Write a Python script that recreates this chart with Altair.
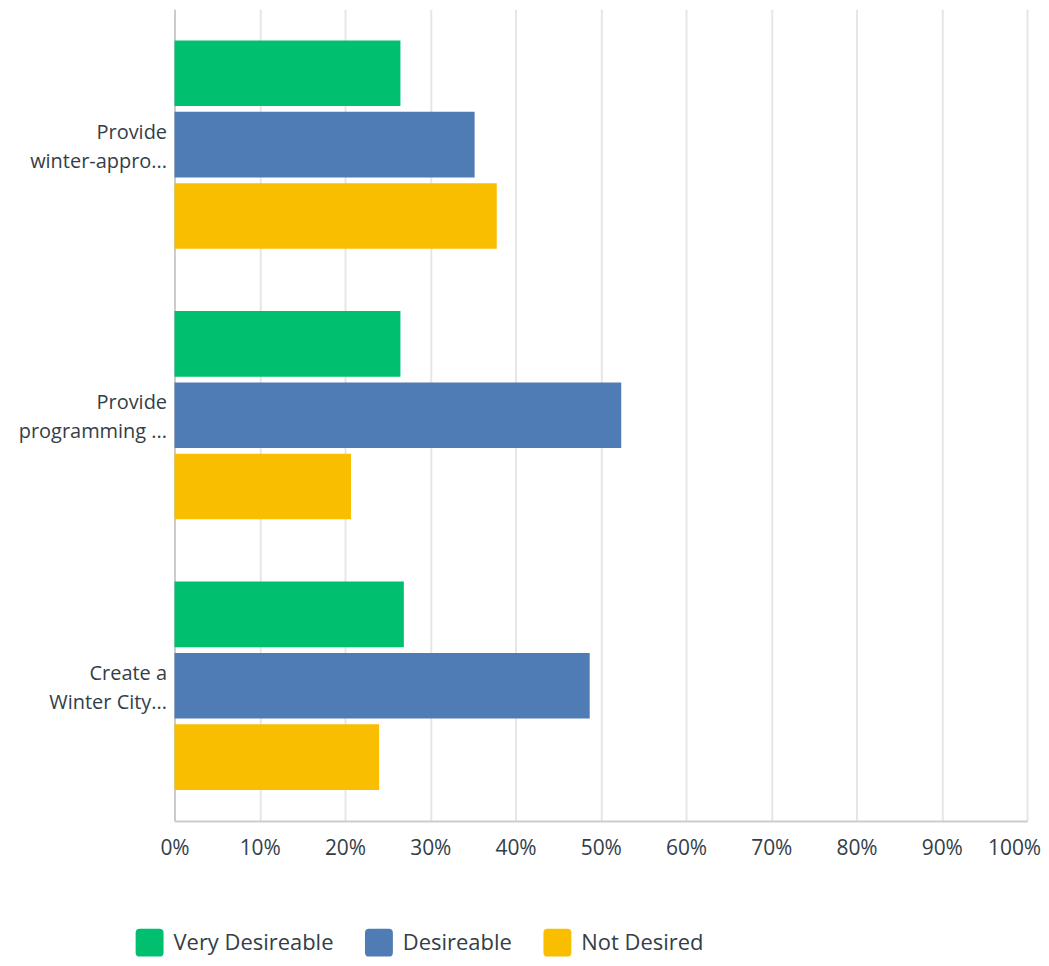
import altair as alt
import pandas as pd

categories = ["Provide|winter-appro...", "Provide|programming ...", "Create a|Winter City..."]
series = ["Very Desireable", "Desireable", "Not Desired"]
very_desireable = [0.265, 0.265, 0.269]
desireable = [0.352, 0.524, 0.487]
not_desired = [0.378, 0.207, 0.240]
colors = ["#00bf6f", "#507cb6", "#f9be00"]
x_ticks = [i / 10 for i in range(11)]

rows = []
for i, c in enumerate(categories):
    for s, vals in zip(series, [very_desireable, desireable, not_desired]):
        rows.append({"category": c, "series": s, "value": vals[i]})
df = pd.DataFrame(rows)

FONT = "Open Sans"
TEXT = "#333e48"
rounded = "M -0.7 -1 H 0.7 Q 1 -1 1 -0.7 V 0.7 Q 1 1 0.7 1 H -0.7 Q -1 1 -1 0.7 V -0.7 Q -1 -1 -0.7 -1 Z"

chart = alt.Chart(df).mark_bar().encode(
    y=alt.Y("category:N", sort=categories, title=None,
            scale=alt.Scale(paddingInner=0.23, paddingOuter=0.115),
            axis=alt.Axis(labelExpr="split(datum.label, '|')", labelFont=FONT,
                          labelFontSize=20, labelColor=TEXT, labelLineHeight=29,
                          labelPadding=8, labelOffset=-12, ticks=False,
                          domainColor="#cccccc", domainWidth=2, grid=False,
                          labelAlign="right", labelBaseline="middle", labelLimit=0)),
    yOffset=alt.YOffset("series:N", sort=series,
                        scale=alt.Scale(paddingInner=0.08, paddingOuter=0)),
    x=alt.X("value:Q", title=None,
            scale=alt.Scale(domain=[0, 1], nice=False),
            axis=alt.Axis(format=".0%", values=x_ticks, labelFont=FONT,
                          labelFontSize=21, labelColor=TEXT, labelPadding=17,
                          labelOffset={"condition": {"test": "datum.value >= 1", "value": -13},
                                       "value": 0},
                          ticks=False, domainColor="#cccccc", domainWidth=2,
                          gridColor="#e6e6e6", gridWidth=2, labelFlush=False)),
    color=alt.Color("series:N", sort=series,
                    scale=alt.Scale(domain=series, range=colors),
                    legend=alt.Legend(title=None, orient="none", direction="horizontal",
                                      legendX=-39, legendY=922,
                                      symbolType=rounded, symbolSize=784,
                                      symbolStrokeWidth=0, symbolOpacity=1,
                                      labelFont=FONT, labelFontSize=22, labelLimit=0,
                                      labelColor=TEXT, labelOffset=10,
                                      columnPadding=31)),
).properties(
    width=855, height=814,
    autosize=alt.AutoSizeParams(type="none"),
    padding={"left": 167, "top": 0, "right": 14, "bottom": 136},
).configure_view(stroke=None)

chart.save("out.html", embed_options={"renderer": "svg", "actions": False})
